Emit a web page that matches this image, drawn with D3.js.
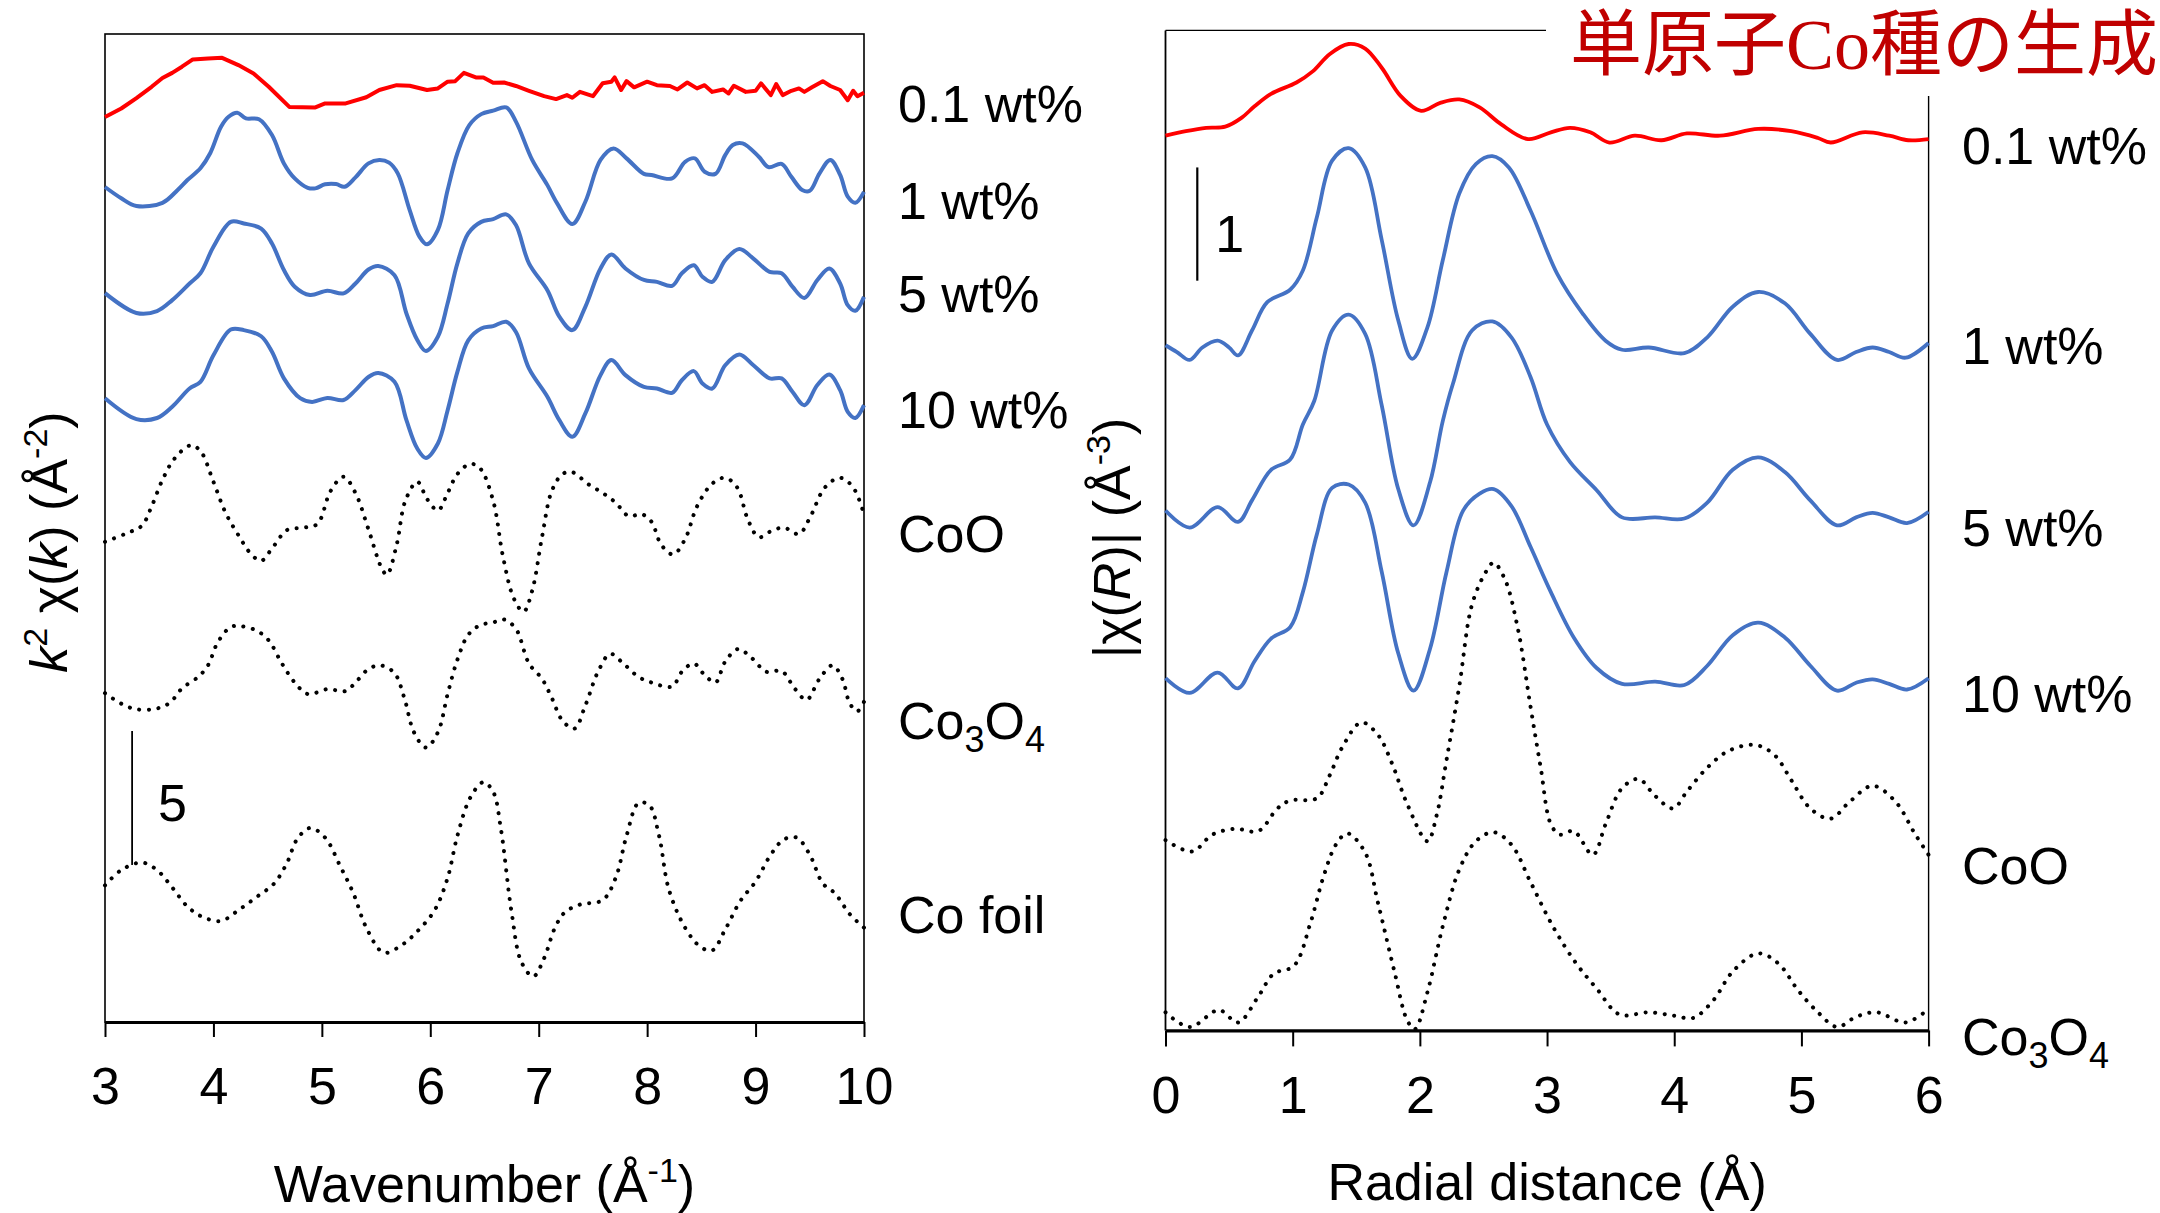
<!DOCTYPE html>
<html><head><meta charset="utf-8">
<script src="https://cdn.jsdelivr.net/npm/d3@7"></script>
<style>
body{margin:0;background:#fff}
svg text{font-family:"Liberation Sans",Arial,sans-serif;fill:#000}
</style>
</head><body>
<svg id="chart" width="2160" height="1213"></svg>
<script>
// ---------- DATA ----------
const kTicks = [3,4,5,6,7,8,9,10];
const rTicks = [0,1,2,3,4,5,6];
const kLabels = ["0.1 wt%","1 wt%","5 wt%","10 wt%","CoO","Co3O4","Co foil"];
const rLabels = ["0.1 wt%","1 wt%","5 wt%","10 wt%","CoO","Co3O4"];
// vertical offsets of the stacked curves (in plot units)
const kOffsets = [33.77, 31.16, 27.20, 23.28, 18.36, 12.39, 4.55];
const rOffsets = [7.90, 6.05, 4.59, 3.11, 1.68, 0.16];
const kScaleBar = [3.25, 5.86, 5];   // k position, bottom, length (k²χ units)
const rScaleBar = [0.25, 6.62, 1];   // R position, bottom, length (|χ| units)

// k²χ(k) spectra [k, value]
const k_01 = [[3.00,0.00],[3.15,0.32],[3.29,0.71],[3.43,1.13],[3.53,1.46],[3.62,1.65],[3.71,1.88],[3.81,2.15],[3.95,2.19],[4.08,2.21],[4.23,1.94],[4.37,1.63],[4.51,1.13],[4.70,0.38],[4.94,0.36],[5.03,0.51],[5.22,0.51],[5.41,0.74],[5.53,1.01],[5.69,1.19],[5.81,1.17],[5.97,1.01],[6.07,1.07],[6.16,1.32],[6.23,1.34],[6.31,1.65],[6.42,1.48],[6.49,1.48],[6.58,1.28],[6.68,1.29],[6.79,1.16],[6.91,0.98],[7.05,0.78],[7.16,0.67],[7.26,0.82],[7.31,0.72],[7.38,0.94],[7.50,0.78],[7.59,1.26],[7.67,1.32],[7.70,1.48],[7.76,1.01],[7.81,1.34],[7.88,1.11],[8.00,1.32],[8.09,1.19],[8.21,1.16],[8.28,1.03],[8.37,1.29],[8.46,1.07],[8.53,1.19],[8.60,0.94],[8.70,1.03],[8.75,0.88],[8.80,1.17],[8.91,0.94],[9.00,0.98],[9.05,1.26],[9.14,0.82],[9.19,1.23],[9.25,0.82],[9.33,0.98],[9.40,1.07],[9.45,0.94],[9.52,1.11],[9.62,1.34],[9.69,1.16],[9.78,1.01],[9.85,0.63],[9.90,0.98],[9.94,0.78],[10.00,0.91]];
const k_1 = [[3.00,0.00],[3.15,-0.42],[3.29,-0.71],[3.53,-0.59],[3.67,-0.11],[3.76,0.26],[3.88,0.70],[3.97,1.26],[4.07,2.25],[4.14,2.62],[4.22,2.77],[4.30,2.56],[4.42,2.53],[4.54,1.94],[4.65,0.88],[4.75,0.32],[4.87,-0.03],[4.94,-0.05],[5.03,0.10],[5.13,0.11],[5.21,0.01],[5.31,0.36],[5.43,0.88],[5.53,1.01],[5.62,0.91],[5.70,0.51],[5.81,-0.86],[5.90,-1.85],[5.97,-2.14],[6.07,-1.60],[6.16,-0.11],[6.25,1.26],[6.36,2.31],[6.47,2.72],[6.58,2.85],[6.70,2.97],[6.79,2.44],[6.94,1.01],[7.08,0.07],[7.17,-0.61],[7.31,-1.38],[7.43,-0.55],[7.57,1.01],[7.69,1.44],[7.81,1.07],[7.97,0.49],[8.04,0.45],[8.23,0.32],[8.35,0.94],[8.44,1.07],[8.53,0.57],[8.63,0.49],[8.72,1.19],[8.79,1.57],[8.88,1.63],[9.03,1.13],[9.12,0.74],[9.24,0.86],[9.33,0.38],[9.43,-0.11],[9.50,-0.14],[9.59,0.51],[9.69,1.01],[9.78,0.45],[9.85,-0.36],[9.92,-0.59],[10.00,-0.18]];
const k_5 = [[3.00,0.00],[3.29,-0.74],[3.48,-0.67],[3.62,-0.26],[3.78,0.36],[3.88,0.74],[4.00,1.73],[4.16,2.66],[4.28,2.60],[4.44,2.41],[4.54,1.85],[4.65,0.86],[4.75,0.24],[4.89,-0.07],[5.05,0.09],[5.20,-0.01],[5.31,0.36],[5.43,0.88],[5.52,1.01],[5.67,0.67],[5.78,-0.76],[5.88,-1.75],[5.96,-2.16],[6.07,-1.63],[6.16,-0.38],[6.25,1.11],[6.35,2.23],[6.47,2.66],[6.58,2.76],[6.70,2.94],[6.79,2.54],[6.91,1.11],[7.08,0.11],[7.19,-0.88],[7.31,-1.38],[7.43,-0.51],[7.57,0.92],[7.67,1.44],[7.80,0.92],[7.97,0.49],[8.09,0.42],[8.23,0.27],[8.32,0.74],[8.43,1.04],[8.51,0.61],[8.60,0.42],[8.72,1.23],[8.85,1.65],[8.98,1.29],[9.13,0.79],[9.24,0.74],[9.34,0.24],[9.45,-0.18],[9.57,0.49],[9.68,0.92],[9.78,0.36],[9.85,-0.45],[9.92,-0.66],[10.00,-0.14]];
const k_10 = [[3.00,0.00],[3.29,-0.78],[3.48,-0.74],[3.62,-0.32],[3.78,0.36],[3.88,0.61],[4.00,1.60],[4.16,2.56],[4.28,2.54],[4.44,2.31],[4.54,1.73],[4.65,0.74],[4.80,0.00],[4.91,-0.14],[5.05,0.01],[5.20,-0.07],[5.31,0.30],[5.43,0.79],[5.52,0.94],[5.67,0.61],[5.78,-0.82],[5.88,-1.88],[5.96,-2.23],[6.07,-1.69],[6.16,-0.45],[6.25,0.98],[6.35,2.16],[6.47,2.60],[6.58,2.69],[6.70,2.85],[6.79,2.47],[6.91,1.11],[7.08,0.05],[7.19,-0.82],[7.31,-1.44],[7.43,-0.57],[7.57,0.86],[7.67,1.42],[7.80,0.86],[7.97,0.42],[8.09,0.36],[8.23,0.20],[8.32,0.67],[8.43,1.01],[8.51,0.55],[8.60,0.36],[8.72,1.23],[8.85,1.63],[8.98,1.23],[9.13,0.74],[9.24,0.74],[9.34,0.24],[9.45,-0.26],[9.57,0.49],[9.68,0.88],[9.78,0.30],[9.85,-0.51],[9.92,-0.74],[10.00,-0.26]];
const k_CoO = [[3.00,-0.44],[3.20,-0.12],[3.34,0.16],[3.43,0.88],[3.53,1.87],[3.64,2.66],[3.79,3.16],[3.88,2.95],[4.00,1.80],[4.11,0.66],[4.23,-0.19],[4.35,-0.91],[4.44,-1.15],[4.54,-0.69],[4.68,0.00],[4.84,0.09],[4.96,0.23],[5.08,1.45],[5.20,1.99],[5.31,1.38],[5.43,0.02],[5.55,-1.41],[5.60,-1.67],[5.69,-0.55],[5.77,1.09],[5.88,1.80],[5.97,1.16],[6.07,0.73],[6.16,1.38],[6.25,2.09],[6.37,2.47],[6.46,2.30],[6.58,1.09],[6.67,-0.98],[6.77,-2.55],[6.86,-3.05],[6.94,-2.26],[7.03,-0.27],[7.12,1.45],[7.22,2.09],[7.31,2.16],[7.45,1.73],[7.59,1.38],[7.71,1.02],[7.83,0.52],[7.95,0.59],[8.04,0.31],[8.13,-0.55],[8.24,-0.91],[8.35,-0.34],[8.46,0.88],[8.60,1.73],[8.72,1.95],[8.83,1.59],[8.93,0.38],[9.03,-0.27],[9.14,-0.05],[9.26,0.09],[9.40,-0.15],[9.50,0.45],[9.64,1.59],[9.78,1.95],[9.90,1.59],[10.00,0.59]];
const k_Co3O4 = [[3.00,-0.12],[3.15,-0.51],[3.29,-0.72],[3.48,-0.69],[3.60,-0.47],[3.71,0.06],[3.86,0.49],[3.95,0.92],[4.04,1.78],[4.16,2.35],[4.26,2.38],[4.40,2.21],[4.51,1.85],[4.63,1.00],[4.75,0.28],[4.87,-0.15],[5.05,0.03],[5.22,-0.04],[5.31,0.28],[5.43,0.78],[5.54,0.92],[5.67,0.63],[5.76,-0.29],[5.85,-1.58],[5.96,-2.15],[6.07,-1.58],[6.16,-0.15],[6.25,1.13],[6.35,2.06],[6.46,2.42],[6.58,2.52],[6.68,2.63],[6.79,2.28],[6.91,0.99],[7.03,0.42],[7.12,-0.29],[7.22,-1.15],[7.33,-1.44],[7.43,-0.58],[7.55,0.71],[7.66,1.35],[7.78,0.99],[7.92,0.49],[8.04,0.28],[8.23,0.13],[8.32,0.68],[8.43,0.99],[8.53,0.56],[8.63,0.28],[8.72,1.06],[8.84,1.53],[8.96,1.21],[9.10,0.68],[9.24,0.71],[9.36,0.06],[9.47,-0.37],[9.59,0.42],[9.71,0.92],[9.80,0.42],[9.87,-0.51],[9.94,-0.79],[10.00,-0.44]];
const k_foil = [[3.00,0.55],[3.15,1.12],[3.34,1.40],[3.48,1.12],[3.62,0.47],[3.76,-0.24],[3.90,-0.63],[4.07,-0.78],[4.23,-0.38],[4.40,0.12],[4.56,0.62],[4.68,1.40],[4.77,2.26],[4.89,2.69],[5.03,2.33],[5.17,1.26],[5.29,0.26],[5.41,-1.03],[5.57,-1.96],[5.74,-1.67],[5.88,-1.17],[6.04,-0.38],[6.16,0.83],[6.25,2.40],[6.37,3.83],[6.49,4.40],[6.58,4.04],[6.65,2.69],[6.75,-0.46],[6.84,-2.31],[6.95,-2.85],[7.05,-2.17],[7.15,-1.03],[7.24,-0.46],[7.38,-0.17],[7.59,0.00],[7.71,0.83],[7.81,2.40],[7.92,3.62],[8.02,3.54],[8.11,2.40],[8.20,0.40],[8.35,-1.03],[8.49,-1.74],[8.60,-1.88],[8.72,-1.10],[8.86,-0.03],[9.00,0.69],[9.14,1.69],[9.26,2.26],[9.38,2.33],[9.50,1.69],[9.62,0.62],[9.73,0.26],[9.87,-0.53],[10.00,-1.03]];

// |χ(R)| spectra [R, value]
const r_01 = [[0,0],[0.16,0.04],[0.32,0.07],[0.47,0.08],[0.60,0.16],[0.70,0.26],[0.83,0.37],[1.03,0.47],[1.16,0.57],[1.29,0.72],[1.44,0.81],[1.57,0.77],[1.70,0.60],[1.85,0.35],[2.01,0.22],[2.16,0.29],[2.31,0.32],[2.47,0.25],[2.64,0.10],[2.85,-0.03],[3.03,0.03],[3.18,0.07],[3.34,0.03],[3.49,-0.06],[3.69,0],[3.90,-0.04],[4.10,0.02],[4.36,0],[4.66,0.06],[4.92,0.04],[5.13,-0.02],[5.23,-0.06],[5.48,0.03],[5.69,0],[5.84,-0.04],[6.0,-0.03]];
const r_1 = [[0,0],[0.09,-0.06],[0.19,-0.13],[0.29,-0.02],[0.41,0.04],[0.50,-0.02],[0.57,-0.09],[0.68,0.13],[0.80,0.38],[0.98,0.49],[1.08,0.66],[1.19,1.13],[1.31,1.63],[1.44,1.74],[1.57,1.57],[1.70,0.93],[1.83,0.22],[1.94,-0.12],[2.06,0.16],[2.18,0.75],[2.31,1.34],[2.44,1.60],[2.57,1.67],[2.70,1.57],[2.87,1.19],[3.08,0.63],[3.28,0.28],[3.46,0.04],[3.59,-0.04],[3.80,-0.02],[4.08,-0.07],[4.26,0.07],[4.46,0.34],[4.66,0.47],[4.87,0.37],[5.07,0.10],[5.28,-0.13],[5.43,-0.06],[5.56,-0.02],[5.69,-0.06],[5.82,-0.11],[6.0,0.02]];
const r_5 = [[0,0],[0.19,-0.15],[0.41,0.03],[0.57,-0.10],[0.68,0.09],[0.83,0.36],[0.98,0.45],[1.08,0.76],[1.17,0.97],[1.31,1.59],[1.44,1.73],[1.57,1.56],[1.70,0.93],[1.83,0.19],[1.95,-0.13],[2.08,0.25],[2.18,0.79],[2.26,1.12],[2.41,1.59],[2.57,1.67],[2.72,1.53],[2.87,1.18],[3.00,0.76],[3.18,0.43],[3.39,0.18],[3.59,-0.06],[3.85,-0.06],[4.08,-0.07],[4.26,0.07],[4.46,0.36],[4.66,0.47],[4.87,0.34],[5.07,0.09],[5.28,-0.13],[5.43,-0.06],[5.56,-0.02],[5.69,-0.06],[5.83,-0.11],[6.0,-0.01]];
const r_10 = [[0,0],[0.19,-0.13],[0.41,0.05],[0.57,-0.09],[0.70,0.15],[0.83,0.35],[0.98,0.45],[1.08,0.76],[1.19,1.27],[1.31,1.68],[1.44,1.71],[1.57,1.55],[1.70,0.94],[1.83,0.22],[1.95,-0.11],[2.08,0.26],[2.21,0.94],[2.34,1.48],[2.47,1.63],[2.58,1.67],[2.72,1.52],[2.87,1.16],[3.03,0.76],[3.21,0.36],[3.39,0.09],[3.59,-0.05],[3.85,-0.03],[4.08,-0.06],[4.26,0.11],[4.46,0.38],[4.66,0.49],[4.87,0.36],[5.07,0.11],[5.28,-0.11],[5.43,-0.04],[5.56,-0.01],[5.69,-0.05],[5.83,-0.10],[6.0,0]];
const r_CoO = [[0,0],[0.21,-0.10],[0.37,0.05],[0.55,0.10],[0.73,0.08],[0.88,0.28],[0.98,0.35],[1.19,0.37],[1.29,0.57],[1.39,0.82],[1.54,1.04],[1.67,0.93],[1.78,0.68],[1.90,0.32],[2.06,-0.01],[2.13,0.21],[2.21,0.71],[2.31,1.36],[2.41,2.08],[2.52,2.37],[2.58,2.45],[2.67,2.30],[2.77,1.87],[2.87,1.18],[2.95,0.64],[3.03,0.14],[3.10,0.05],[3.21,0.08],[3.36,-0.13],[3.46,0.14],[3.59,0.46],[3.72,0.54],[3.85,0.39],[3.99,0.28],[4.10,0.43],[4.26,0.64],[4.43,0.79],[4.64,0.84],[4.79,0.75],[4.92,0.53],[5.07,0.28],[5.23,0.19],[5.38,0.34],[5.56,0.48],[5.74,0.34],[5.89,0.06],[6.0,-0.13]];
const r_Co3O4 = [[0,0],[0.19,-0.13],[0.42,0.02],[0.57,-0.09],[0.73,0.14],[0.85,0.34],[1.01,0.41],[1.14,0.79],[1.24,1.19],[1.34,1.48],[1.43,1.58],[1.57,1.41],[1.67,0.97],[1.80,0.36],[1.90,-0.07],[1.96,-0.15],[2.06,0.18],[2.18,0.76],[2.31,1.26],[2.44,1.51],[2.58,1.59],[2.72,1.48],[2.87,1.15],[3.05,0.75],[3.23,0.43],[3.39,0.21],[3.57,-0.02],[3.80,0],[4.0,-0.03],[4.15,-0.05],[4.31,0.11],[4.46,0.36],[4.66,0.52],[4.82,0.43],[4.97,0.20],[5.13,0],[5.28,-0.13],[5.43,-0.04],[5.59,0],[5.82,-0.09],[6.0,0.03]];

const kData = [k_01, k_1, k_5, k_10, k_CoO, k_Co3O4, k_foil];
const rData = [r_01, r_1, r_5, r_10, r_CoO, r_Co3O4];
const styles = ["red","blue","blue","blue","dot","dot","dot"];

// ---------- DRAW ----------
const svg = d3.select("#chart");
const RED = "#ff0000", BLUE = "#4472c4";
const FS = 52;

function styleLine(p, s, w){
  if (s === "red") p.attr("stroke", RED).attr("stroke-width", w);
  else if (s === "blue") p.attr("stroke", BLUE).attr("stroke-width", w);
  else p.attr("stroke", "#000").attr("stroke-width", 4)
        .attr("stroke-dasharray", "0.1 9.5").attr("stroke-linecap", "round");
}

// ----- Left panel -----
const L = {x0:105, x1:864, y0:34, y1:1022};
const xk = d3.scaleLinear().domain([3,10]).range([L.x0, L.x1]);
const yk = d3.scaleLinear().domain([0, 36.87]).range([L.y1, L.y0]);

const gL = svg.append("g");
gL.append("rect").attr("x", L.x0).attr("y", L.y0).attr("width", L.x1-L.x0).attr("height", L.y1-L.y0)
  .attr("fill","none").attr("stroke","#000").attr("stroke-width",1.6);

const axL = gL.append("g").attr("transform", `translate(0,${L.y1})`)
  .call(d3.axisBottom(xk).tickValues(kTicks).tickSize(15).tickSizeOuter(0).tickPadding(30).tickFormat(d3.format("d")));
axL.select(".domain").attr("stroke-width", 3.2);
axL.selectAll(".tick line").attr("stroke-width", 2);
axL.selectAll(".tick text").attr("font-size", FS).attr("font-family", "Liberation Sans, Arial, sans-serif");

kData.forEach((d, i) => {
  const off = kOffsets[i];
  const line = d3.line().x(p => xk(p[0])).y(p => yk(p[1] + off))
    .curve(i === 0 ? d3.curveLinear : d3.curveCatmullRom.alpha(0.5));
  const p = gL.append("path").datum(d).attr("d", line).attr("fill", "none").attr("stroke-linejoin","round");
  styleLine(p, styles[i], 4);
});

// scale bar "5"
gL.append("line").attr("x1", xk(kScaleBar[0])).attr("x2", xk(kScaleBar[0]))
  .attr("y1", yk(kScaleBar[1])).attr("y2", yk(kScaleBar[1] + kScaleBar[2]))
  .attr("stroke", "#000").attr("stroke-width", 1.8);
gL.append("text").attr("x", xk(kScaleBar[0]) + 26).attr("y", yk(kScaleBar[1] + kScaleBar[2]*0.33))
  .attr("font-size", FS).text(kScaleBar[2]);

// series labels (left)
const kLabelY = [122, 219, 312, 428, 552, 739, 933];
function addLabel(g, x, y, name){
  const t = g.append("text").attr("x", x).attr("y", y).attr("font-size", FS);
  if (name === "Co3O4") {
    t.append("tspan").text("Co");
    t.append("tspan").attr("font-size", 36).attr("dy", 13).text("3");
    t.append("tspan").attr("dy", -13).text("O");
    t.append("tspan").attr("font-size", 36).attr("dy", 13).text("4");
  } else t.text(name);
}
kLabels.forEach((n, i) => addLabel(gL, 898, kLabelY[i], n));

// axis titles left
const xt = gL.append("text").attr("x", (L.x0+L.x1)/2).attr("y", 1202).attr("text-anchor","middle").attr("font-size", FS);
xt.append("tspan").text("Wavenumber (Å");
xt.append("tspan").attr("font-size", 34).attr("dy", -20).text("-1");
xt.append("tspan").attr("dy", 20).text(")");

const yt = gL.append("text").attr("transform", "translate(67,542) rotate(-90)").attr("text-anchor","middle").attr("font-size", FS);
yt.append("tspan").attr("font-style","italic").text("k");
yt.append("tspan").attr("font-size", 34).attr("dy", -20).text("2");
yt.append("tspan").attr("dy", 20).text(" χ(");
yt.append("tspan").attr("font-style","italic").text("k");
yt.append("tspan").text(") (Å");
yt.append("tspan").attr("font-size", 34).attr("dy", -20).text("-2");
yt.append("tspan").attr("dy", 20).text(")");

// ----- Right panel -----
const R = {x0:1165.5, x1:1928.6, y0:30.4, y1:1030.4};
const xr = d3.scaleLinear().domain([0,6]).range([R.x0, R.x1]);
const yr = d3.scaleLinear().domain([0, 8.83]).range([R.y1, R.y0]);
const gR = svg.append("g");

gR.append("line").attr("x1", R.x0).attr("x2", R.x0).attr("y1", R.y0).attr("y2", R.y1).attr("stroke","#000").attr("stroke-width",1.8);
gR.append("line").attr("x1", R.x0).attr("x2", 1546).attr("y1", R.y0).attr("y2", R.y0).attr("stroke","#000").attr("stroke-width",1.4);
gR.append("line").attr("x1", R.x1).attr("x2", R.x1).attr("y1", 96).attr("y2", R.y1).attr("stroke","#000").attr("stroke-width",1.4);

const axR = gR.append("g").attr("transform", `translate(0,${R.y1})`)
  .call(d3.axisBottom(xr).tickValues(rTicks).tickSize(16).tickSizeOuter(0).tickPadding(30).tickFormat(d3.format("d")));
axR.select(".domain").attr("stroke-width", 3.2);
axR.selectAll(".tick line").attr("stroke-width", 2);
axR.selectAll(".tick text").attr("font-size", FS).attr("font-family", "Liberation Sans, Arial, sans-serif");

rData.forEach((d, i) => {
  const off = rOffsets[i];
  const line = d3.line().x(p => xr(p[0])).y(p => yr(p[1] + off)).curve(d3.curveCatmullRom.alpha(0.5));
  const p = gR.append("path").datum(d).attr("d", line).attr("fill", "none").attr("stroke-linejoin","round");
  styleLine(p, styles[i], 3.8);
});

// scale bar "1"
gR.append("line").attr("x1", xr(rScaleBar[0])).attr("x2", xr(rScaleBar[0]))
  .attr("y1", yr(rScaleBar[1])).attr("y2", yr(rScaleBar[1] + rScaleBar[2]))
  .attr("stroke", "#000").attr("stroke-width", 2.2);
gR.append("text").attr("x", xr(rScaleBar[0]) + 18).attr("y", yr(rScaleBar[1] + rScaleBar[2]*0.25))
  .attr("font-size", FS).text(rScaleBar[2]);

const rLabelY = [164, 364, 546, 712, 884, 1055];
rLabels.forEach((n, i) => addLabel(gR, 1962, rLabelY[i], n));

gR.append("text").attr("x", (R.x0+R.x1)/2).attr("y", 1200).attr("text-anchor","middle").attr("font-size", FS)
  .text("Radial distance (Å)");

const yt2 = gR.append("text").attr("transform", "translate(1130,538) rotate(-90)").attr("text-anchor","middle").attr("font-size", FS);
yt2.append("tspan").text("|χ(");
yt2.append("tspan").attr("font-style","italic").text("R");
yt2.append("tspan").text(")| (Å");
yt2.append("tspan").attr("font-size", 34).attr("dy", -20).text("-3");
yt2.append("tspan").attr("dy", 20).text(")");

// title
svg.append("text").attr("x", 1570).attr("y", 69).attr("font-size", 72)
  .style("font-family", "'Liberation Serif','Noto Sans CJK JP',serif").style("fill", "#c00000")
  .text("単原子Co種の生成");
</script>
</body></html>
